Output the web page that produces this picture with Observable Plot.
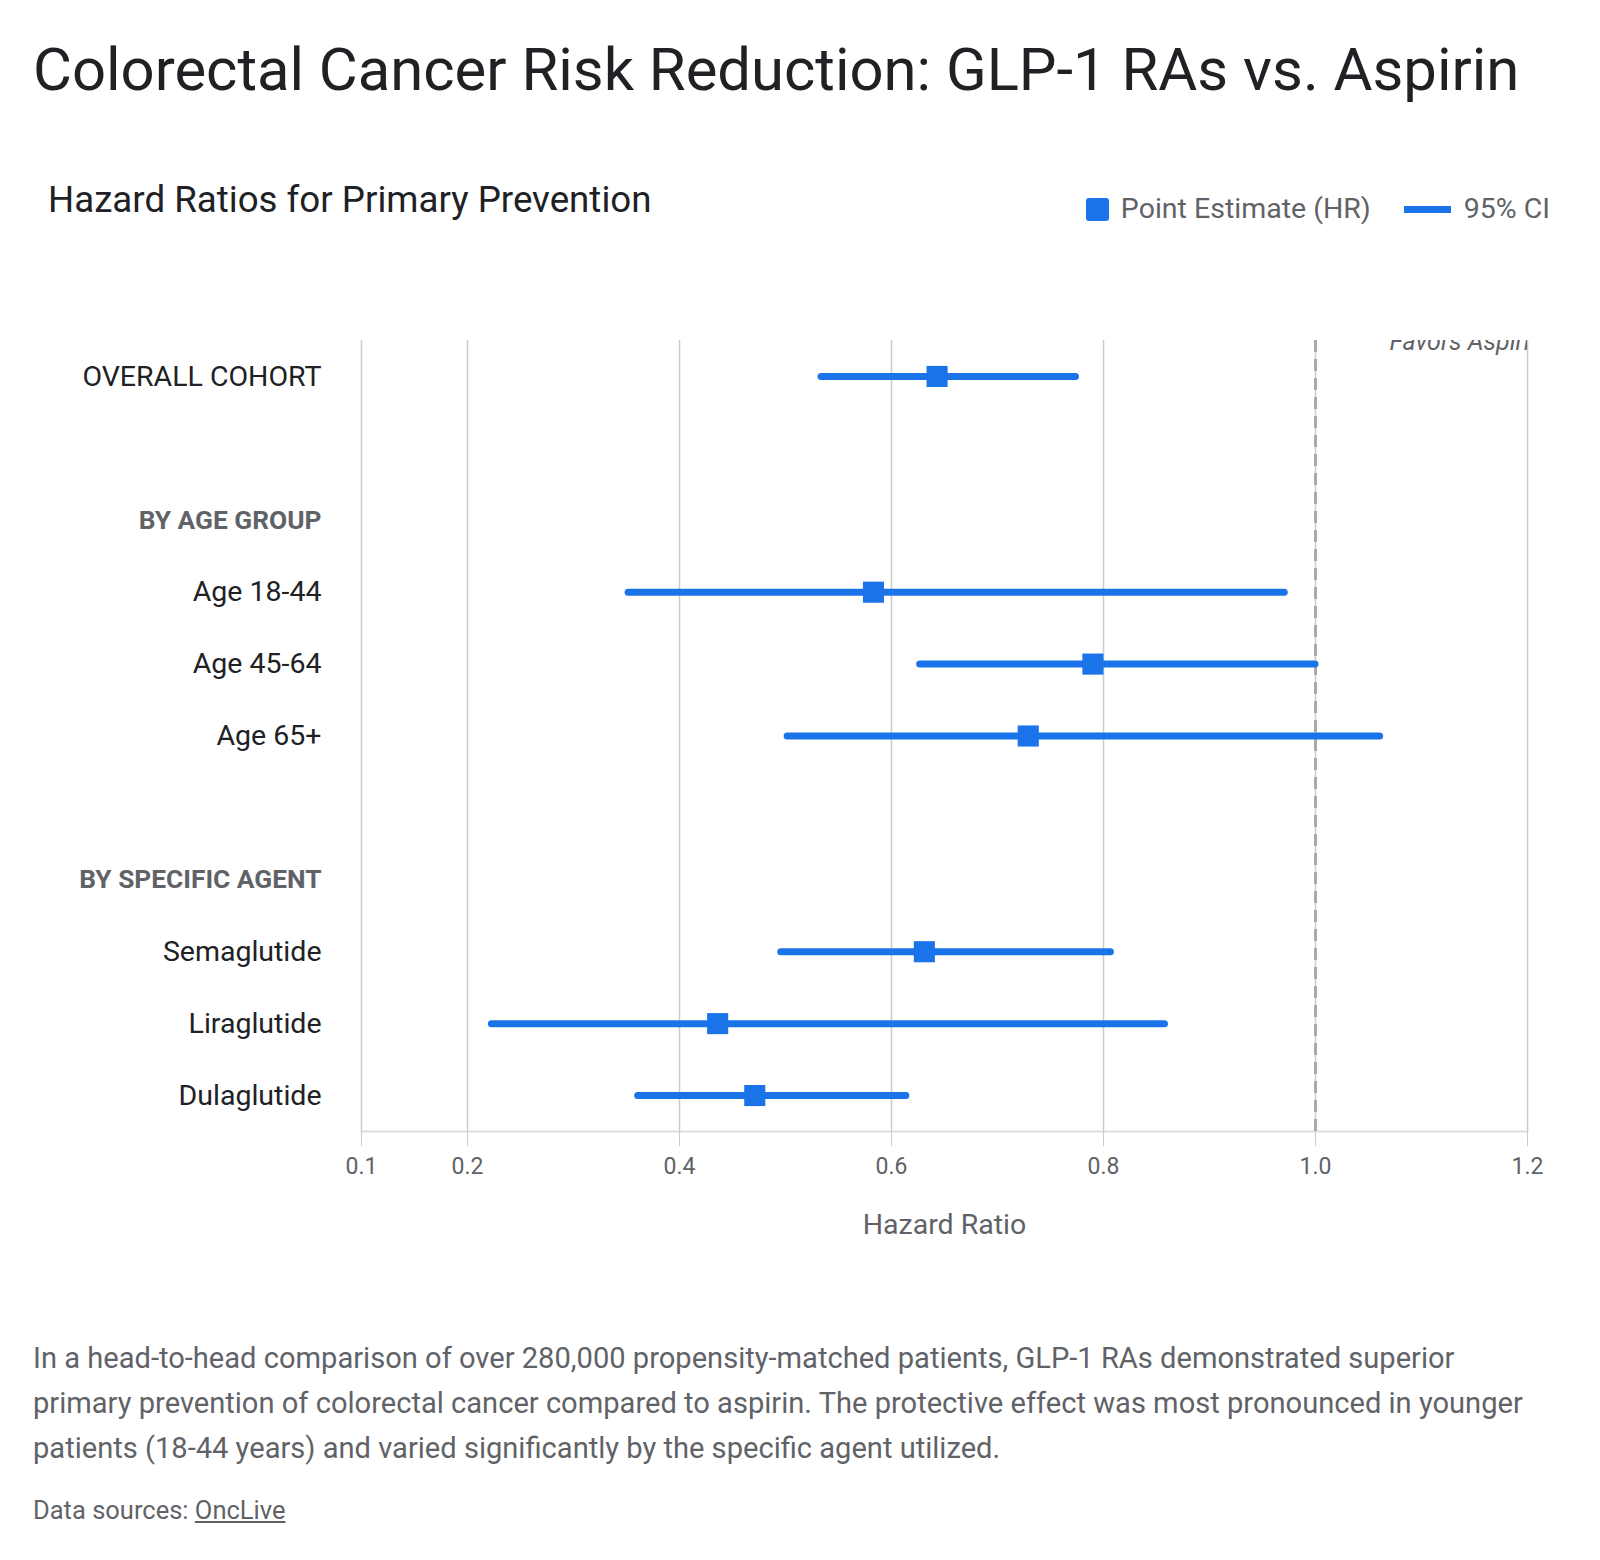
<!DOCTYPE html>
<html>
<head>
<meta charset="utf-8">
<script src="https://cdn.jsdelivr.net/npm/d3@7"></script>
<script src="https://cdn.jsdelivr.net/npm/@observablehq/plot@0.6"></script>
<style>
  html, body { margin: 0; padding: 0; background: #fff; width: 1600px; height: 1560px; overflow: hidden; font-family: Roboto, "Noto Sans", sans-serif; }
  .abs { position: absolute; white-space: nowrap; }
  #title { left: 33px; top: 40px; font-size: 59.8px; line-height: 60px; color: #202124; font-weight: 400; }
  #subtitle { left: 48px; top: 182px; font-size: 36.7px; line-height: 36px; color: #202124; }
  #legend { right: 50px; top: 194px; display: flex; align-items: center; font-size: 28.5px; line-height: 30px; color: #5f6368; }
  .sw-sq { width: 23px; height: 23px; background: #1a73e8; border-radius: 3px; margin-right: 12px; }
  .sw-ln { width: 47px; height: 7px; background: #1a73e8; margin-left: 33px; margin-right: 13px; }
  #chart { position: absolute; left: 0; top: 260px; }
  #caption { left: 33px; top: 1336px; font-size: 29.1px; line-height: 45px; color: #5f6368; }
  #source { left: 33px; top: 1499px; font-size: 25.5px; line-height: 22px; color: #5f6368; }
  #source a { color: #5f6368; text-decoration: underline; }
</style>
</head>
<body>
<div id="title" class="abs">Colorectal Cancer Risk Reduction: GLP-1 RAs vs. Aspirin</div>
<div id="subtitle" class="abs">Hazard Ratios for Primary Prevention</div>
<div id="legend" class="abs"><div class="sw-sq"></div><span>Point Estimate (HR)</span><div class="sw-ln"></div><span>95% CI</span></div>
<div id="chart"></div>
<div id="caption" class="abs">In a head-to-head comparison of over 280,000 propensity-matched patients, GLP-1 RAs demonstrated superior<br>primary prevention of colorectal cancer compared to aspirin. The protective effect was most pronounced in younger<br>patients (18-44 years) and varied significantly by the specific agent utilized.</div>
<div id="source" class="abs">Data sources: <a>OncLive</a></div>
<script>
// Row order (top to bottom), including group headers and spacer rows
const rows = ["OVERALL COHORT", "sp1", "BY AGE GROUP", "Age 18-44", "Age 45-64", "Age 65+", "sp2", "BY SPECIFIC AGENT", "Semaglutide", "Liraglutide", "Dulaglutide"];
const headers = ["BY AGE GROUP", "BY SPECIFIC AGENT"];
const labels = ["OVERALL COHORT", "Age 18-44", "Age 45-64", "Age 65+", "Semaglutide", "Liraglutide", "Dulaglutide"];
const hr    = [0.643, 0.583, 0.790, 0.729, 0.631, 0.436, 0.471];
const ciLow = [0.534, 0.352, 0.627, 0.502, 0.496, 0.223, 0.361];
const ciHigh= [0.774, 0.971, 1.000, 1.061, 0.807, 0.858, 0.614];
const xTicks = [0.1, 0.2, 0.4, 0.6, 0.8, 1.0, 1.2];
const refLine = [1.0];
const annotation = ["Favors Aspirin"];

const data = labels.map((l, i) => ({label: l, hr: hr[i], lo: ciLow[i], hi: ciHigh[i]}));

const blue = "#1a73e8";
const chart = Plot.plot({
  width: 1600,
  height: 1000,
  marginLeft: 361,
  marginRight: 73,
  marginTop: 80,
  marginBottom: 129,
  style: { fontFamily: "Roboto, 'Noto Sans', sans-serif", background: "transparent" },
  x: { domain: [0.1, 1.2] },
  y: { type: "band", domain: rows, padding: 0, round: false, axis: null },
  marks: [
    Plot.ruleX(xTicks, { stroke: "#cccccc", strokeWidth: 1.5 }),
    Plot.frame({ anchor: "bottom", stroke: "#dddddd", strokeWidth: 2 }),
    Plot.axisX({ ticks: xTicks, tickFormat: d3.format(".1f"), tickSize: 15, tickPadding: 11, stroke: "#cccccc", fill: "#5f6368", fontSize: 23, label: null }),
    Plot.ruleX(refLine, { stroke: "#aaaaaa", strokeWidth: 3, strokeDasharray: "12,7" }),
    Plot.text(annotation, { x: () => refLine[0], text: d => d, frameAnchor: "top", dx: 74, dy: 9, textAnchor: "start", lineAnchor: "bottom", fontSize: 25, fontStyle: "italic", fill: "#5f6368", clip: "frame" }),
    Plot.ruleY(data, { y: "label", x1: "lo", x2: "hi", stroke: blue, strokeWidth: 7, strokeLinecap: "round" }),
    Plot.dot(data, { x: "hr", y: "label", symbol: "square", r: 11.9, fill: blue, stroke: null }),
    Plot.text(labels, { y: d => d, text: d => d, frameAnchor: "left", dx: -40, textAnchor: "end", fontSize: 28.5, fill: "#202124" }),
    Plot.text(headers, { y: d => d, text: d => d, frameAnchor: "left", dx: -40, textAnchor: "end", fontSize: 26.3, fontWeight: "bold", fill: "#5f6368" }),
    Plot.text(["Hazard Ratio"], { text: d => d, frameAnchor: "bottom", dy: 102, fontSize: 28.5, fill: "#5f6368" })
  ]
});
document.getElementById("chart").appendChild(chart);
</script>
</body>
</html>
